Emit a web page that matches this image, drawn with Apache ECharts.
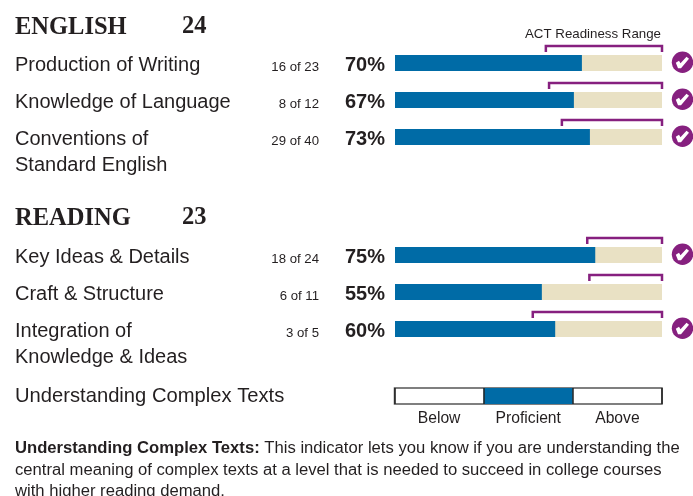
<!DOCTYPE html>
<html>
<head>
<meta charset="utf-8">
<style>
  html, body { margin: 0; padding: 0; background: #fff; }
  #chart { width: 693px; height: 496px; }
</style>
<script src="https://cdn.jsdelivr.net/npm/echarts@6/dist/echarts.min.js"></script>
</head>
<body>
<div id="chart"></div>
<script>
const englishSkills = ['Production of Writing', 'Knowledge of Language', 'Conventions of\nStandard English']
const englishCounts = ['16 of 23', '8 of 12', '29 of 40']
const englishPercent = [70, 67, 73]
const englishRangeStart = [56.5, 57.7, 62.5]
const englishMet = [true, true, true]

const readingSkills = ['Key Ideas & Details', 'Craft & Structure', 'Integration of\nKnowledge & Ideas']
const readingCounts = ['18 of 24', '6 of 11', '3 of 5']
const readingPercent = [75, 55, 60]
const readingRangeStart = [72, 72.8, 51.6]
const readingMet = [true, false, true]

const complexLevels = ['Below', 'Proficient', 'Above']
const complexValues = [0, 1, 0]

const BLUE = '#006ba6'
const BEIGE = '#e9e1c4'
const PURPLE = '#86207f'
const INK = '#231f20'
const SANS = '"Liberation Sans", Arial, sans-serif'
const SERIF = '"Liberation Serif", "DejaVu Serif", serif'

// one section = grid + axes + bar + custom series for texts, brackets, checks
const grids = []
const xAxes = []
const yAxes = []
const series = []

const addSection = (top, skills, counts, percent, rangeStart, met) => {
    const idx = grids.length
    grids.push({ left: 395, width: 267, top: top, height: 111 })
    xAxes.push({ gridIndex: idx, type: 'value', min: 0, max: 100, show: false })
    yAxes.push({ gridIndex: idx, type: 'category', inverse: true, data: skills, show: false })

    series.push({
        type: 'bar',
        xAxisIndex: idx,
        yAxisIndex: idx,
        data: percent,
        barWidth: 16,
        itemStyle: { color: BLUE },
        showBackground: true,
        backgroundStyle: { color: BEIGE },
        silent: true
    })

    // row name, count, percent
    series.push({
        type: 'custom',
        xAxisIndex: idx,
        yAxisIndex: idx,
        silent: true,
        data: skills.map((s, i) => [0, i]),
        renderItem: (params, api) => {
            const i = params.dataIndex
            const pt = api.coord([0, api.value(1)])
            return {
                type: 'group',
                children: [
                    {
                        type: 'text', x: pt[0] - 380, y: pt[1] - 11,
                        style: { text: skills[i], font: '20px ' + SANS, fill: INK, lineHeight: 26.5, verticalAlign: 'top' }
                    },
                    {
                        type: 'text', x: pt[0] - 76, y: pt[1] + 4,
                        style: { text: counts[i], font: '13.2px ' + SANS, fill: INK, align: 'right', verticalAlign: 'middle' }
                    },
                    {
                        type: 'text', x: pt[0] - 10, y: pt[1] + 2,
                        style: { text: percent[i] + '%', font: 'bold 20px ' + SANS, fill: INK, align: 'right', verticalAlign: 'middle' }
                    }
                ]
            }
        }
    })

    // readiness range bracket
    series.push({
        type: 'custom',
        xAxisIndex: idx,
        yAxisIndex: idx,
        silent: true,
        data: rangeStart.map((v, i) => [v, i]),
        renderItem: (params, api) => {
            const a = api.coord([api.value(0), api.value(1)])
            const b = api.coord([100, api.value(1)])
            return {
                type: 'polyline',
                shape: { points: [[a[0], a[1] - 11], [a[0], a[1] - 17], [b[0], b[1] - 17], [b[0], b[1] - 11]] },
                style: { stroke: PURPLE, lineWidth: 2.5, fill: null }
            }
        }
    })

    // check marks
    series.push({
        type: 'custom',
        xAxisIndex: idx,
        yAxisIndex: idx,
        silent: true,
        data: met.map((m, i) => (m ? [100, i] : null)).filter(Boolean),
        renderItem: (params, api) => {
            const pt = api.coord([100, api.value(1)])
            const cx = pt[0] + 20.5
            const cy = pt[1] - 0.7
            return {
                type: 'group',
                children: [
                    { type: 'circle', shape: { cx: cx, cy: cy, r: 10.7 }, style: { fill: PURPLE } },
                    {
                        type: 'polygon',
                        shape: {
                            points: [
                                [cx - 6.7, cy + 0.5], [cx - 3.5, cy - 1.5], [cx - 2, cy + 1],
                                [cx + 4, cy - 5.5], [cx + 6.5, cy - 3.5], [cx - 1.5, cy + 6], [cx - 4.5, cy + 6]
                            ]
                        },
                        style: { fill: '#fff' }
                    }
                ]
            }
        }
    })
}

addSection(44.5, englishSkills, englishCounts, englishPercent, englishRangeStart, englishMet)
addSection(236.5, readingSkills, readingCounts, readingPercent, readingRangeStart, readingMet)

// understanding complex texts strip
grids.push({ left: 394.5, width: 267.5, top: 388, height: 16, show: true, borderColor: '#555', borderWidth: 1.5, backgroundColor: '#fff' })
xAxes.push({
    gridIndex: 2,
    type: 'category',
    data: complexLevels,
    z: 5,
    axisLine: { show: false },
    axisTick: { show: false },
    splitLine: { show: true, interval: 0, lineStyle: { color: '#222', width: 1.5 } },
    axisLabel: { color: INK, fontFamily: SANS, fontSize: 15.7, margin: 7, interval: 0 }
})
yAxes.push({ gridIndex: 2, type: 'value', min: 0, max: 1, show: false })
series.push({
    type: 'bar',
    xAxisIndex: 2,
    yAxisIndex: 2,
    data: complexValues,
    barWidth: '100%',
    itemStyle: { color: BLUE },
    silent: true
})

const heading = (text, left, top) => ({
    text: text, left: left, top: top, padding: 0,
    textStyle: { fontFamily: SERIF, fontSize: 24.5, fontWeight: 'bold', color: INK }
})

const chart = echarts.init(document.getElementById('chart'))
chart.setOption({
    animation: false,
    backgroundColor: '#fff',
    title: [
        heading('ENGLISH', 15, 15),
        heading('24', 182, 14),
        heading('READING', 15, 206),
        heading('23', 182, 205),
        {
            text: 'ACT Readiness Range', right: 32, top: 28, padding: 0,
            textStyle: { fontFamily: SANS, fontSize: 13.3, fontWeight: 'normal', color: INK }
        },
        {
            text: 'Understanding Complex Texts', left: 15, top: 386, padding: 0,
            textStyle: { fontFamily: SANS, fontSize: 20.2, fontWeight: 'normal', color: INK }
        },
        {
            text: '{b|Understanding Complex Texts:} This indicator lets you know if you are understanding the\n'
                + 'central meaning of complex texts at a level that is needed to succeed in college courses\n'
                + 'with higher reading demand.',
            left: 15, top: 438, padding: 0,
            textStyle: {
                fontFamily: SANS, fontSize: 16.65, fontWeight: 'normal', color: INK, lineHeight: 21.5,
                rich: { b: { fontFamily: SANS, fontSize: 16.65, fontWeight: 'bold', color: INK, lineHeight: 21.5 } }
            }
        }
    ],
    grid: grids,
    xAxis: xAxes,
    yAxis: yAxes,
    series: series
})
</script>
</body>
</html>
